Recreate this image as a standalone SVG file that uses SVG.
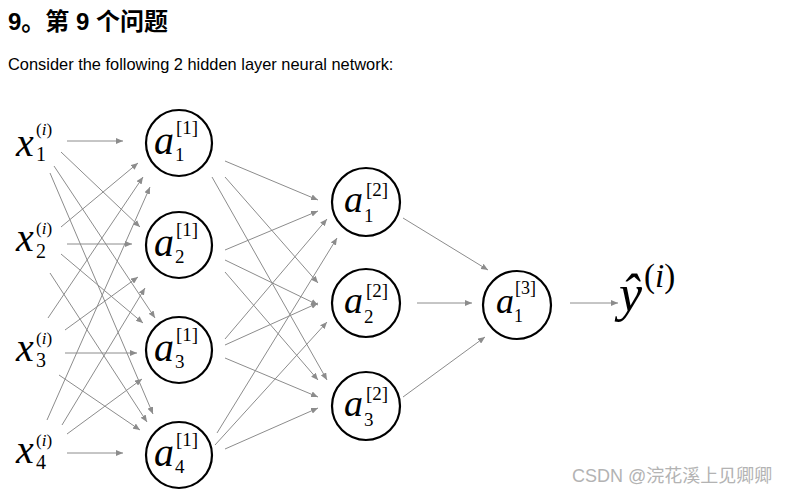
<svg xmlns="http://www.w3.org/2000/svg" width="797" height="497" viewBox="0 0 797 497">
<defs>
<marker id="ah" markerUnits="userSpaceOnUse" markerWidth="8" markerHeight="6" refX="7" refY="3" orient="auto">
<path d="M0,0 L7,3 L0,6 Z" fill="#8c8c8c"/>
</marker>
<style>
.t{font-family:"Liberation Sans",Arial,"Noto Sans CJK SC",sans-serif;fill:#000}
.m{font-family:"Liberation Serif","Times New Roman",serif;fill:#000}
.i{font-style:italic}
.c{fill:none;stroke:#000;stroke-width:2.2}
.e line{stroke:#8c8c8c;stroke-width:1;marker-end:url(#ah)}
</style>
</defs>
<rect width="797" height="497" fill="#fff"/>
<text class="t" x="8" y="30" font-size="24" font-weight="bold">9。第 9 个问题</text>
<text class="t" x="8" y="70" font-size="16.4">Consider the following 2 hidden layer neural network:</text>

<g id="connectors" class="e">
<line x1="67" y1="141" x2="123" y2="141"/>
<line x1="61" y1="152" x2="140" y2="227"/>
<line x1="54" y1="166" x2="155" y2="318"/>
<line x1="50" y1="173" x2="153" y2="414"/>
<line x1="61" y1="227" x2="138" y2="163"/>
<line x1="67" y1="244" x2="132" y2="244"/>
<line x1="61" y1="254" x2="143" y2="323"/>
<line x1="50" y1="273" x2="147" y2="422"/>
<line x1="48" y1="318" x2="143" y2="177"/>
<line x1="65" y1="330" x2="138" y2="277"/>
<line x1="65" y1="353" x2="137" y2="353"/>
<line x1="59" y1="375" x2="140" y2="430"/>
<line x1="47" y1="420" x2="150" y2="187"/>
<line x1="62" y1="425" x2="145" y2="288"/>
<line x1="67" y1="434" x2="142" y2="379"/>
<line x1="67" y1="453" x2="123" y2="453"/>

<line x1="225" y1="161" x2="318" y2="200"/>
<line x1="225" y1="177" x2="318" y2="283"/>
<line x1="212" y1="177" x2="327" y2="380"/>
<line x1="225" y1="250" x2="318" y2="211"/>
<line x1="225" y1="260" x2="318" y2="305"/>
<line x1="225" y1="272" x2="318" y2="380"/>
<line x1="225" y1="339" x2="327" y2="219"/>
<line x1="225" y1="345" x2="318" y2="303"/>
<line x1="225" y1="358" x2="318" y2="397"/>
<line x1="217" y1="433" x2="337" y2="238"/>
<line x1="215" y1="445" x2="327" y2="322"/>
<line x1="225" y1="449" x2="318" y2="408"/>

<line x1="403" y1="218" x2="488" y2="270"/>
<line x1="417" y1="303" x2="472" y2="303"/>
<line x1="403" y1="397" x2="485" y2="337"/>
<line x1="570" y1="303" x2="618" y2="303"/>
</g>

<g id="x1"><text class="m i" x="16" y="156" font-size="40">x</text><text class="m" x="36" y="161" font-size="20">1</text><text class="m" x="36" y="135" font-size="17">(<tspan class="i">i</tspan>)</text></g>
<g id="x2"><text class="m i" x="16" y="251" font-size="40">x</text><text class="m" x="36" y="258" font-size="20">2</text><text class="m" x="36" y="234" font-size="17">(<tspan class="i">i</tspan>)</text></g>
<g id="x3"><text class="m i" x="16" y="361" font-size="40">x</text><text class="m" x="36" y="367" font-size="20">3</text><text class="m" x="36" y="344" font-size="17">(<tspan class="i">i</tspan>)</text></g>
<g id="x4"><text class="m i" x="16" y="463" font-size="40">x</text><text class="m" x="36" y="469" font-size="20">4</text><text class="m" x="36" y="446" font-size="17">(<tspan class="i">i</tspan>)</text></g>

<g id="a1_1"><circle class="c" cx="179" cy="143" r="33"/><text class="m i" x="154" y="154" font-size="40">a</text><text class="m" x="176" y="134" font-size="19">[1]</text><text class="m" x="175" y="161" font-size="19">1</text></g>
<g id="a2_1"><circle class="c" cx="179" cy="245" r="33"/><text class="m i" x="154" y="256" font-size="40">a</text><text class="m" x="176" y="236" font-size="19">[1]</text><text class="m" x="175" y="263" font-size="19">2</text></g>
<g id="a3_1"><circle class="c" cx="179" cy="350" r="33"/><text class="m i" x="154" y="361" font-size="40">a</text><text class="m" x="176" y="341" font-size="19">[1]</text><text class="m" x="175" y="368" font-size="19">3</text></g>
<g id="a4_1"><circle class="c" cx="179" cy="455" r="33"/><text class="m i" x="154" y="466" font-size="40">a</text><text class="m" x="176" y="446" font-size="19">[1]</text><text class="m" x="175" y="473" font-size="19">4</text></g>

<g id="a1_2"><circle class="c" cx="366" cy="202" r="34"/><text class="m i" x="344" y="212" font-size="38">a</text><text class="m" x="366" y="196" font-size="19">[2]</text><text class="m" x="364" y="222" font-size="19">1</text></g>
<g id="a2_2"><circle class="c" cx="366" cy="303" r="34"/><text class="m i" x="344" y="313" font-size="38">a</text><text class="m" x="366" y="297" font-size="19">[2]</text><text class="m" x="364" y="323" font-size="19">2</text></g>
<g id="a3_2"><circle class="c" cx="366" cy="406" r="34"/><text class="m i" x="344" y="416" font-size="38">a</text><text class="m" x="366" y="400" font-size="19">[2]</text><text class="m" x="364" y="426" font-size="19">3</text></g>

<g id="a1_3"><circle class="c" cx="517" cy="305" r="34"/><text class="m i" x="496" y="313" font-size="36">a</text><text class="m" x="515" y="294" font-size="18">[3]</text><text class="m" x="514" y="322" font-size="18">1</text></g>

<g id="yhat"><text class="m i" x="619" y="311" font-size="52">ŷ</text><text class="m" x="644" y="287" font-size="33">(<tspan class="i">i</tspan>)</text></g>

<text x="572" y="482" font-size="18" fill="#b3b3b3" font-family="Liberation Sans,Arial,Noto Sans CJK SC,sans-serif">CSDN @浣花溪上见卿卿</text>
</svg>
